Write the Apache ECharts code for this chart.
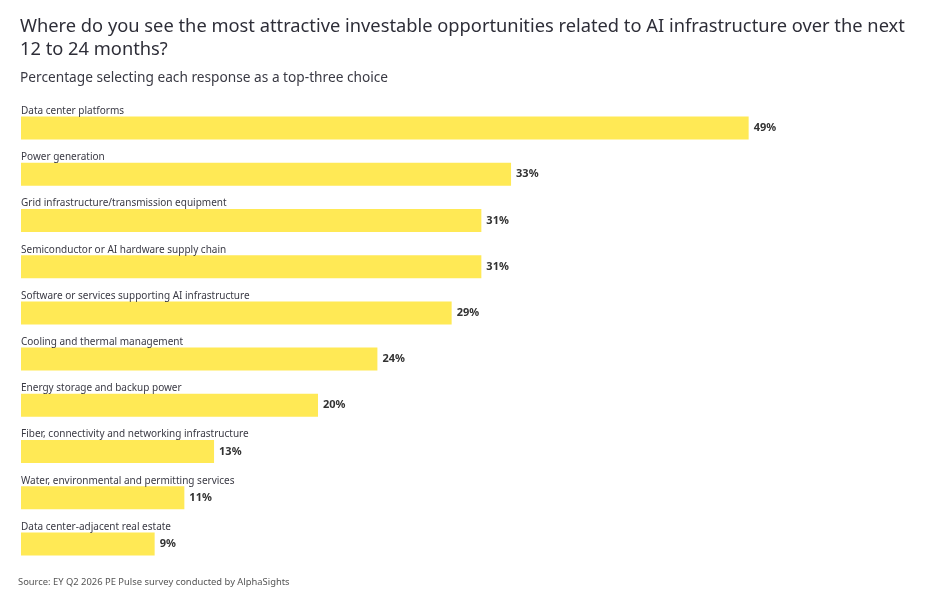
<!DOCTYPE html>
<html>
<head>
<meta charset="utf-8">
<script src="https://cdn.jsdelivr.net/npm/echarts@6/dist/echarts.min.js"></script>
<style>
  html, body { margin: 0; padding: 0; background: #fff; }
  #chart { width: 936px; height: 604px; }
</style>
</head>
<body>
<div id="chart"></div>
<script>
const categories = [
  'Data center platforms',
  'Power generation',
  'Grid infrastructure/transmission equipment',
  'Semiconductor or AI hardware supply chain',
  'Software or services supporting AI infrastructure',
  'Cooling and thermal management',
  'Energy storage and backup power',
  'Fiber, connectivity and networking infrastructure',
  'Water, environmental and permitting services',
  'Data center-adjacent real estate'
];
const values = [49, 33, 31, 31, 29, 24, 20, 13, 11, 9];

const FONT = 'Noto Sans';
const chart = echarts.init(document.getElementById('chart'));

chart.setOption({
  backgroundColor: '#fff',
  animation: false,
  textStyle: { fontFamily: FONT },
  title: [
    {
      text: 'Where do you see the most attractive investable opportunities related to AI infrastructure over the next\n12 to 24 months?',
      left: 20,
      top: 15,
      padding: 0,
      textStyle: { fontSize: 18.3, fontWeight: 'normal', color: '#2e2e38', lineHeight: 23, fontFamily: FONT }
    },
    {
      text: 'Percentage selecting each response as a top-three choice',
      left: 20,
      top: 71,
      padding: 0,
      textStyle: { fontSize: 13.7, fontWeight: 'normal', color: '#3a3a44', fontFamily: FONT }
    },
    {
      text: 'Source: EY Q2 2026 PE Pulse survey conducted by AlphaSights',
      left: 18,
      top: 578,
      padding: 0,
      textStyle: { fontSize: 9.4, fontWeight: 'normal', color: '#555', fontFamily: FONT }
    }
  ],
  grid: { left: 21, right: 24, top: 105, height: 462, containLabel: false },
  xAxis: {
    type: 'value',
    min: 0,
    max: 60,
    show: false
  },
  yAxis: {
    type: 'category',
    data: categories,
    inverse: true,
    axisLine: { show: false },
    axisTick: { show: false },
    splitLine: { show: false },
    axisLabel: {
      inside: true,
      margin: 0,
      align: 'left',
      verticalAlign: 'bottom',
      padding: [0, 0, 12, 0],
      fontSize: 10,
      color: '#3a3a44',
      fontFamily: FONT
    },
    z: 10
  },
  series: [{
    type: 'bar',
    data: values,
    barWidth: 23,
    itemStyle: { color: '#ffe955' },
    label: {
      show: true,
      position: 'right',
      distance: 5,
      formatter: '{c}%',
      fontSize: 11,
      fontWeight: 'bold',
      color: '#333',
      fontFamily: FONT
    }
  }]
});
</script>
</body>
</html>
